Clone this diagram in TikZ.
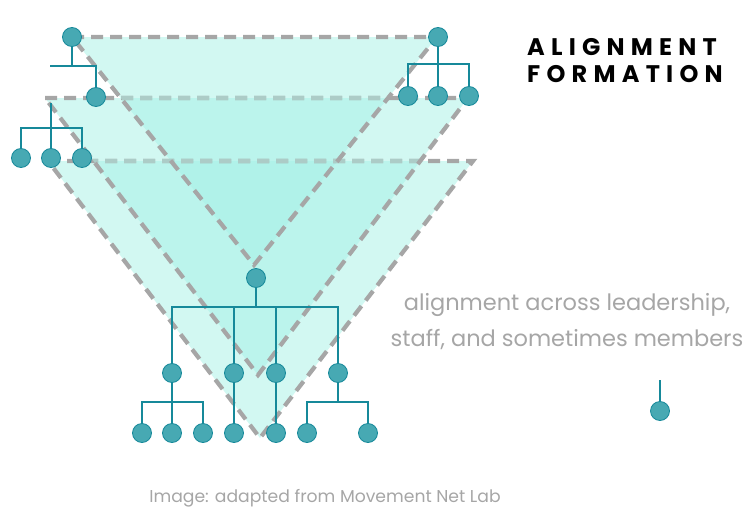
\documentclass[tikz,border=0pt]{standalone}
\usepackage{fontspec}
\setmainfont{Poppins}
\newfontfamily\titlefont{Poppins}[LetterSpace=26]
\definecolor{fillone}{RGB}{210,248,242}
\definecolor{filltwo}{RGB}{187,244,236}
\definecolor{fillthree}{RGB}{176,242,233}
\definecolor{dashgray}{RGB}{166,166,166}
\definecolor{dashlight}{RGB}{172,204,199}
\definecolor{tealline}{RGB}{22,137,154}
\definecolor{tealfill}{RGB}{71,169,179}
\definecolor{softgray}{RGB}{166,166,166}
\tikzset{
  triedge/.style={draw=dashgray, line width=4.2pt, dash pattern=on 12pt off 7pt},
  triedgelight/.style={draw=dashlight, line width=4.2pt, dash pattern=on 12pt off 7pt},
  tnode/.style={circle, fill=tealfill, draw=tealline, line width=0.8pt,
    minimum size=19pt, inner sep=0pt},
  tline/.style={draw=tealline, line width=1.8pt},
}
\begin{document}
\begin{tikzpicture}[x=1pt,y=-1pt]
\useasboundingbox (0,0) rectangle (755,522);
% triangle corners
\coordinate (t1a) at (72,37);  \coordinate (t1b) at (437,37);  \coordinate (t1c) at (254,265);
\coordinate (t2a) at (45,98);  \coordinate (t2b) at (468,98);  \coordinate (t2c) at (258,375);
\coordinate (t3a) at (48,161); \coordinate (t3b) at (473,161); \coordinate (t3c) at (260,438);
\def\triA{(t1a) -- (t1b) -- (t1c) -- cycle}
\def\triB{(t2a) -- (t2b) -- (t2c) -- cycle}
\def\triC{(t3a) -- (t3b) -- (t3c) -- cycle}
% fills
\fill[fillone] \triA; \fill[fillone] \triB; \fill[fillone] \triC;
\begin{scope} \clip \triA; \fill[filltwo] \triB; \fill[filltwo] \triC; \end{scope}
\begin{scope} \clip \triB; \fill[filltwo] \triC; \end{scope}
\begin{scope} \clip \triA; \clip \triB; \fill[fillthree] \triC; \end{scope}
% edges of the lowest triangle, partly covered by the others
\draw[triedge] \triC;
\begin{scope} \clip \triB; \draw[triedgelight] \triC; \end{scope}
\begin{scope} \clip \triA; \draw[triedgelight] \triC; \end{scope}
% edges of the middle triangle
\draw[triedge] \triB;
\begin{scope} \clip \triA; \draw[triedgelight] \triB; \end{scope}
% edges of the top triangle
\draw[triedge] \triA;
% tree nodes
\node[tnode] (a)  at (72,37) {};
\node[tnode] (a1) at (96,97) {};
\node[tnode] (b1) at (21,158) {};
\node[tnode] (b2) at (51,158) {};
\node[tnode] (b3) at (82,158) {};
\node[tnode] (c)  at (438,37) {};
\node[tnode] (c1) at (408,96) {};
\node[tnode] (c2) at (438,96) {};
\node[tnode] (c3) at (469,96) {};
\node[tnode] (d)  at (256,278) {};
\node[tnode] (d1) at (172,373) {};
\node[tnode] (d2) at (234,373) {};
\node[tnode] (d3) at (276,373) {};
\node[tnode] (d4) at (338,373) {};
\node[tnode] (e1) at (142,433) {};
\node[tnode] (e2) at (172,433) {};
\node[tnode] (e3) at (203,433) {};
\node[tnode] (e4) at (234,433) {};
\node[tnode] (e5) at (276,433) {};
\node[tnode] (e6) at (307,433) {};
\node[tnode] (e7) at (368,433) {};
\node[tnode] (f)  at (660,411) {};
% bus coordinates
\coordinate (busA) at (72,66);  \coordinate (stubA) at (50,66);
\coordinate (topB) at (51,103); \coordinate (busB) at (51,128);
\coordinate (busC) at (438,64);
\coordinate (busD) at (256,307);
\coordinate (busE) at (172,402);
\coordinate (busF) at (338,402);
\coordinate (stubG) at (660,380);
% connectors
\draw[tline] (a) -- (busA);
\draw[tline] (stubA) -| (a1);
\draw[tline] (topB) -- (b2);
\draw[tline] (b1) |- (busB) -| (b3);
\draw[tline] (c) -- (c2);
\draw[tline] (c1) |- (busC) -| (c3);
\draw[tline] (d) -- (busD);
\draw[tline] (d1) |- (busD) -| (d4);
\draw[tline] (busD) -| (d2);
\draw[tline] (busD) -| (d3);
\draw[tline] (d1) -- (e2);
\draw[tline] (e1) |- (busE) -| (e3);
\draw[tline] (d2) -- (e4);
\draw[tline] (d3) -- (e5);
\draw[tline] (d4) -- (busF);
\draw[tline] (e6) |- (busF) -| (e7);
\draw[tline] (stubG) -- (f);
% texts
\node[anchor=base west, inner sep=0pt] (title1) at (527,55) {\fontsize{24}{24}\titlefont\bfseries ALIGNMENT};
\node[anchor=base west, inner sep=0pt] (title2) at (527,82) {\fontsize{24}{24}\titlefont\bfseries FORMATION};
\node[anchor=base, inner sep=0pt, text=softgray] (desc1) at (567,310) {\fontsize{22.5}{22.5}\selectfont alignment across leadership,};
\node[anchor=base, inner sep=0pt, text=softgray] (desc2) at (567,346) {\fontsize{22.5}{22.5}\selectfont staff, and sometimes members};
\node[anchor=base, inner sep=0pt, text=softgray] (credit) at (325,502) {\fontsize{17.2}{17.2}\selectfont Image: adapted from Movement Net Lab};
\end{tikzpicture}
\end{document}
